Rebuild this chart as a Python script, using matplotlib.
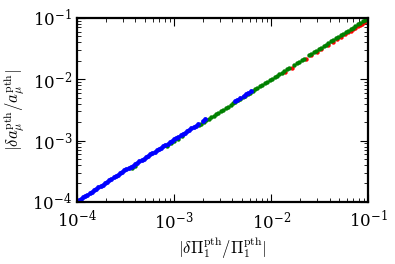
import matplotlib
matplotlib.use('Agg')
import matplotlib.pyplot as plt

plt.rcParams['mathtext.fontset'] = 'cm'
plt.rcParams['font.family'] = 'serif'
plt.rcParams['font.serif'] = ['DejaVu Serif']

# |dPi/Pi| vs |da/a| for three sets of points
blue_x = [1.00e-4, 1.05e-4, 1.10e-4, 1.16e-4, 1.22e-4, 1.28e-4, 1.35e-4, 1.42e-4,
          1.50e-4, 1.58e-4, 1.66e-4, 1.75e-4, 1.84e-4, 1.94e-4, 2.04e-4, 2.15e-4,
          2.26e-4, 2.38e-4, 2.50e-4, 2.63e-4, 2.77e-4, 2.92e-4, 3.07e-4, 3.23e-4,
          3.40e-4, 3.58e-4, 3.77e-4, 3.97e-4, 4.18e-4, 4.40e-4, 4.63e-4, 4.87e-4,
          5.13e-4, 5.40e-4, 5.68e-4, 5.98e-4, 6.30e-4, 6.63e-4, 6.98e-4, 7.35e-4,
          7.73e-4, 8.14e-4, 8.57e-4, 9.02e-4, 9.50e-4, 1.00e-3, 1.05e-3, 1.11e-3,
          1.17e-3, 1.23e-3, 1.29e-3, 1.36e-3, 1.43e-3, 1.51e-3, 1.59e-3, 1.67e-3,
          1.76e-3, 2.00e-3, 2.10e-3, 4.20e-3, 4.50e-3, 4.80e-3, 5.20e-3, 5.50e-3,
          5.80e-3, 6.20e-3]
blue_y = [1.00e-4, 1.07e-4, 1.13e-4, 1.19e-4, 1.26e-4, 1.32e-4, 1.39e-4, 1.47e-4,
          1.56e-4, 1.63e-4, 1.73e-4, 1.82e-4, 1.91e-4, 2.03e-4, 2.14e-4, 2.26e-4,
          2.36e-4, 2.52e-4, 2.64e-4, 2.76e-4, 2.92e-4, 3.07e-4, 3.28e-4, 3.46e-4,
          3.62e-4, 3.70e-4, 3.88e-4, 4.10e-4, 4.35e-4, 4.60e-4, 4.85e-4, 5.10e-4,
          5.40e-4, 5.66e-4, 5.95e-4, 6.25e-4, 6.58e-4, 6.93e-4, 7.30e-4, 7.70e-4,
          8.10e-4, 8.52e-4, 8.95e-4, 9.42e-4, 9.95e-4, 1.05e-3, 1.10e-3, 1.16e-3,
          1.22e-3, 1.29e-3, 1.35e-3, 1.42e-3, 1.50e-3, 1.58e-3, 1.67e-3, 1.75e-3,
          1.84e-3, 2.12e-3, 2.22e-3, 4.35e-3, 4.68e-3, 5.00e-3, 5.40e-3, 5.72e-3,
          6.00e-3, 6.40e-3]

green_x = [3.7e-4, 4.0e-4, 8.5e-4, 9.2e-4, 1.0e-3, 1.1e-3, 1.2e-3,
           1.80e-3, 1.91e-3, 2.02e-3, 2.14e-3, 2.27e-3, 2.41e-3, 2.55e-3, 2.70e-3,
           2.86e-3, 3.03e-3, 3.21e-3, 3.40e-3, 3.61e-3, 3.82e-3, 4.05e-3, 4.29e-3,
           4.55e-3, 4.82e-3, 5.11e-3, 5.42e-3, 5.74e-3, 6.08e-3, 6.45e-3, 6.83e-3,
           7.24e-3, 7.67e-3, 8.13e-3, 8.62e-3, 9.14e-3, 9.68e-3, 1.03e-2, 1.09e-2,
           1.15e-2, 1.22e-2, 1.29e-2, 1.37e-2, 1.45e-2, 1.54e-2, 1.73e-2, 1.83e-2,
           1.94e-2, 2.06e-2, 2.18e-2, 2.45e-2, 2.60e-2, 2.75e-2, 2.92e-2, 3.09e-2,
           3.28e-2, 3.47e-2, 3.68e-2, 3.90e-2, 4.14e-2, 4.38e-2, 4.65e-2, 4.92e-2,
           5.22e-2, 5.53e-2, 5.86e-2, 6.21e-2, 6.59e-2, 6.98e-2, 7.40e-2, 7.84e-2,
           8.31e-2, 8.81e-2, 9.34e-2, 9.90e-2]
green_y = [3.6e-4, 3.9e-4, 8.3e-4, 9.0e-4, 9.8e-4, 1.08e-3, 1.18e-3,
           1.79e-3, 1.90e-3, 2.01e-3, 2.13e-3, 2.26e-3, 2.40e-3, 2.54e-3, 2.69e-3,
           2.85e-3, 3.02e-3, 3.20e-3, 3.39e-3, 3.60e-3, 3.81e-3, 4.04e-3, 4.28e-3,
           4.54e-3, 4.81e-3, 5.10e-3, 5.41e-3, 5.73e-3, 6.07e-3, 6.44e-3, 6.82e-3,
           7.23e-3, 7.66e-3, 8.12e-3, 8.61e-3, 9.13e-3, 9.67e-3, 1.03e-2, 1.09e-2,
           1.15e-2, 1.22e-2, 1.29e-2, 1.37e-2, 1.45e-2, 1.54e-2, 1.73e-2, 1.83e-2,
           1.94e-2, 2.06e-2, 2.18e-2, 2.45e-2, 2.60e-2, 2.75e-2, 2.92e-2, 3.09e-2,
           3.28e-2, 3.47e-2, 3.68e-2, 3.90e-2, 4.14e-2, 4.38e-2, 4.65e-2, 4.92e-2,
           5.22e-2, 5.53e-2, 5.86e-2, 6.21e-2, 6.59e-2, 6.98e-2, 7.40e-2, 7.84e-2,
           8.31e-2, 8.81e-2, 9.34e-2, 9.90e-2]

red_x = [1.40e-2, 1.63e-2, 2.30e-2, 2.60e-2, 3.00e-2, 3.30e-2, 3.90e-2, 4.30e-2,
         4.80e-2, 5.30e-2, 5.80e-2, 6.20e-2, 6.60e-2, 7.00e-2, 7.40e-2, 7.80e-2,
         8.20e-2, 8.60e-2, 9.00e-2, 9.40e-2, 9.80e-2]
red_y = [1.33e-2, 1.55e-2, 2.18e-2, 2.45e-2, 2.83e-2, 3.10e-2, 3.66e-2, 4.04e-2,
         4.50e-2, 4.97e-2, 5.43e-2, 5.80e-2, 6.18e-2, 6.55e-2, 6.93e-2, 7.30e-2,
         7.68e-2, 8.06e-2, 8.45e-2, 8.85e-2, 9.25e-2]

fig = plt.figure(figsize=(3.95, 2.64), dpi=100)
ax = fig.add_axes([0.195, 0.235, 0.737, 0.697])

ax.plot(red_x, red_y, 'o', color='r', ms=3.2, mew=0)
ax.plot(green_x, green_y, 'o', color='g', ms=3.2, mew=0)
ax.plot(blue_x, blue_y, 'o', color='b', ms=3.5, mew=0)

ax.set_xscale('log')
ax.set_yscale('log')
ax.set_xlim(1e-4, 1e-1)
ax.set_ylim(1e-4, 1e-1)

for s in ax.spines.values():
    s.set_linewidth(1.6)
ax.tick_params(which='both', direction='in', top=True, right=True, labelsize=12)
ax.tick_params(which='major', length=6, width=0.8)
ax.tick_params(which='minor', length=3, width=0.6)
ax.tick_params(axis='x', which='major', pad=6)

ax.set_xlabel(r'$|\delta\Pi_1^{\rm pth}/\Pi_1^{\rm pth}|$', fontsize=12, labelpad=2)
ax.set_ylabel(r'$|\delta a_\mu^{\rm pth}/a_\mu^{\rm pth}|$', fontsize=12)

plt.savefig('out.png', dpi=100)
